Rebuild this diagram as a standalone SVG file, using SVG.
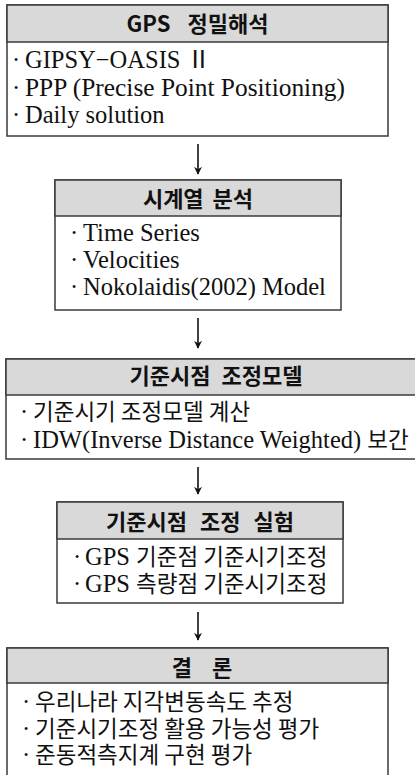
<svg xmlns="http://www.w3.org/2000/svg" width="415" height="775" viewBox="0 0 415 775">
<style>
.box{fill:#fff;stroke:#3a3a3a;stroke-width:1.5}
.hdr{fill:#d9d9d9;stroke:#3a3a3a;stroke-width:1.5}
.ht{font-family:"Noto Sans CJK KR","Noto Sans",sans-serif;font-weight:bold;font-size:22px;fill:#111;text-anchor:middle}
.bt{font-family:"Liberation Serif","Noto Sans CJK KR",serif;font-size:24.5px;fill:#111}
.k{font-family:"Noto Sans CJK KR",sans-serif;font-size:22.5px}
.arr{stroke:#111;stroke-width:1.6;fill:none}
</style>
<defs>
<marker id="ah" viewBox="0 0 10 10" refX="9" refY="5" markerWidth="5" markerHeight="5" orient="auto" markerUnits="strokeWidth">
<path d="M0,0 L10,5 L0,10 L3,5 Z" fill="#111"/>
</marker>
</defs>
<g id="connectors">
<line class="arr" x1="198" y1="144" x2="198" y2="174" marker-end="url(#ah)"/>
<line class="arr" x1="198" y1="318" x2="198" y2="348" marker-end="url(#ah)"/>
<line class="arr" x1="198" y1="467" x2="198" y2="494" marker-end="url(#ah)"/>
<line class="arr" x1="198" y1="612" x2="198" y2="640" marker-end="url(#ah)"/>
</g>
<g id="node1">
<rect class="box" x="7" y="5" width="381" height="131"/>
<rect class="hdr" x="7" y="5" width="381" height="37"/>
<text class="ht" x="197.5" y="32" word-spacing="12">GPS 정밀해석</text>
<text class="bt" y="68"><tspan x="12">·</tspan><tspan x="25">GIPSY−OASIS Ⅱ</tspan></text>
<text class="bt" y="96"><tspan x="12">·</tspan><tspan x="25" textLength="320" lengthAdjust="spacingAndGlyphs">PPP (Precise Point Positioning)</tspan></text>
<text class="bt" y="123"><tspan x="12">·</tspan><tspan x="25">Daily solution</tspan></text>
</g>
<g id="node2">
<rect class="box" x="55" y="180" width="286" height="130"/>
<rect class="hdr" x="55" y="180" width="286" height="36"/>
<text class="ht" x="198" y="207" word-spacing="4">시계열 분석</text>
<text class="bt" y="241" font-size="24"><tspan x="70">·</tspan><tspan x="83">Time Series</tspan></text>
<text class="bt" y="268" font-size="24"><tspan x="70">·</tspan><tspan x="83">Velocities</tspan></text>
<text class="bt" y="295" font-size="24"><tspan x="70">·</tspan><tspan x="83">Nokolaidis(2002) Model</tspan></text>
</g>
<g id="node3">
<rect class="box" x="6" y="359" width="424" height="100"/>
<rect class="hdr" x="6" y="359" width="424" height="36"/>
<text class="ht" x="216" y="384" word-spacing="6">기준시점 조정모델</text>
<text class="bt" y="420"><tspan x="20">·</tspan><tspan x="33" class="k">기준시기 조정모델 계산</tspan></text>
<text class="bt" y="448"><tspan x="20">·</tspan><tspan x="33">IDW(Inverse Distance Weighted) </tspan><tspan class="k" font-size="19">보간</tspan></text>
</g>
<g id="node4">
<rect class="box" x="57" y="502" width="286" height="101"/>
<rect class="hdr" x="57" y="502" width="286" height="37"/>
<text class="ht" x="200" y="530" word-spacing="8">기준시점 조정 실험</text>
<text class="bt" y="565"><tspan x="73">·</tspan><tspan x="85">GPS </tspan><tspan class="k">기준점 기준시기조정</tspan></text>
<text class="bt" y="592"><tspan x="73">·</tspan><tspan x="85">GPS </tspan><tspan class="k">측량점 기준시기조정</tspan></text>
</g>
<g id="node5">
<rect class="box" x="7" y="648" width="381" height="140"/>
<rect class="hdr" x="7" y="648" width="381" height="35"/>
<text class="ht" x="202" y="676" word-spacing="15">결 론</text>
<text class="bt" y="710"><tspan x="22">·</tspan><tspan x="35" class="k">우리나라 지각변동속도 추정</tspan></text>
<text class="bt" y="737"><tspan x="22">·</tspan><tspan x="35" class="k">기준시기조정 활용 가능성 평가</tspan></text>
<text class="bt" y="763"><tspan x="22">·</tspan><tspan x="35" class="k">준동적측지계 구현 평가</tspan></text>
</g>
</svg>
